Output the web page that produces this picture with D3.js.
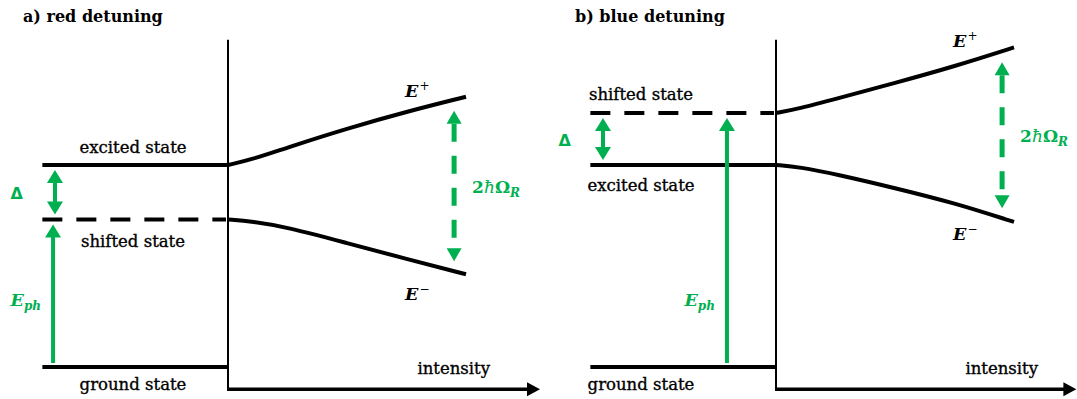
<!DOCTYPE html>
<html>
<head>
<meta charset="utf-8">
<script src="https://cdn.jsdelivr.net/npm/d3@7"></script>
<style>
  body { margin: 0; background: #fff; }
  text { font-family: "DejaVu Serif", serif; fill: #000; }
  .lbl { font-size: 16.5px; stroke: #000; stroke-width: 0.35px; }
</style>
</head>
<body>
<svg id="chart"></svg>
<script>
// Data: energies in units of the excited-state energy (ground = 0),
// intensity in arbitrary units (0 at the axis, 1 at the end of the branches)
const panelTitles = ["a) red detuning", "b) blue detuning"];
const levelNames = ["ground state", "excited state", "shifted state"];
const levelEnergy = [
  [0, 1, 0.73],
  [0, 1, 1.257]
];
const intensity = [0, 0.1, 0.25, 0.5, 0.75, 1];
const upperBranch = [
  [1.0, 1.027, 1.087, 1.181, 1.264, 1.338],
  [1.257, 1.28, 1.327, 1.406, 1.488, 1.582]
];
const lowerBranch = [
  [0.73, 0.721, 0.692, 0.613, 0.535, 0.459],
  [1.0, 0.99, 0.955, 0.886, 0.812, 0.718]
];
const axisLabel = "intensity";

const green = "#00b050";
const width = 1077;
const height = 399;

const svg = d3.select("#chart").attr("width", width).attr("height", height);

// Shared scales (local to each panel, x = 0 at the vertical axis)
const x = d3.scaleLinear().domain([0, 1]).range([0, 238]);
const y = d3.scaleLinear().domain([0, 1]).range([367, 165]);

const line = d3
  .line()
  .x((d) => x(d[0]))
  .y((d) => y(d[1]))
  .curve(d3.curveBasis);

// per-panel layout
const panels = [
  { dx: 228, titleX: -205, labelX: -95, axisEnd: 1.311, ephX: -0.735,
    labelDy: [23, -12, 27], eMinusDy: 26 },
  { dx: 776, titleX: -201, labelX: -135, axisEnd: 1.262, ephX: -0.206,
    labelDy: [23, 26, -13], eMinusDy: 18 }
];

const levelStart = -0.78;
const deltaX = -0.727;
const rabiX = 0.95;

function arrowHead(g, cx, tipY, dir, w, len, color) {
  // dir = -1 points up, 1 points down
  g.append("path")
    .attr("d", `M${cx},${tipY} L${cx - w / 2},${tipY - dir * len} L${cx + w / 2},${tipY - dir * len} Z`)
    .style("fill", color);
}

panels.forEach((p, i) => {
  const g = svg.append("g").attr("transform", `translate(${p.dx},0)`);
  const lv = levelEnergy[i];

  // title
  g.append("text")
    .attr("x", p.titleX)
    .attr("y", 22)
    .style("font-weight", "bold")
    .style("font-size", "16px")
    .text(panelTitles[i]);

  // axes
  g.append("line")
    .attr("x1", 0).attr("x2", 0)
    .attr("y1", y(1.62)).attr("y2", y(-0.11) + 1.5)
    .style("stroke", "#000").style("stroke-width", 2);

  const axY = y(-0.11);
  g.append("line")
    .attr("x1", -1).attr("x2", x(p.axisEnd) - 12)
    .attr("y1", axY).attr("y2", axY)
    .style("stroke", "#000").style("stroke-width", 3.5);
  g.append("path")
    .attr("d", `M${x(p.axisEnd)},${axY} L${x(p.axisEnd) - 13},${axY - 7} L${x(p.axisEnd) - 13},${axY + 7} Z`)
    .style("fill", "#000");

  g.append("text")
    .attr("class", "lbl")
    .attr("x", 262)
    .attr("y", 374)
    .attr("text-anchor", "end")
    .text(axisLabel);

  // unperturbed levels
  lv.forEach((e, k) => {
    g.append("line")
      .attr("x1", x(levelStart)).attr("x2", k === 2 ? -2 : 0)
      .attr("y1", y(e)).attr("y2", y(e))
      .style("stroke", "#000")
      .style("stroke-width", 4)
      .style("stroke-dasharray", k === 2 ? "20,14" : null);

    g.append("text")
      .attr("class", "lbl")
      .attr("x", p.labelX)
      .attr("y", y(e) + p.labelDy[k])
      .attr("text-anchor", "middle")
      .text(levelNames[k]);
  });

  // dressed branches
  [upperBranch[i], lowerBranch[i]].forEach((branch) => {
    g.append("path")
      .datum(intensity.map((v, j) => [v, branch[j]]))
      .attr("d", line)
      .style("fill", "none")
      .style("stroke", "#000")
      .style("stroke-width", 4);
  });

  const upEnd = upperBranch[i][upperBranch[i].length - 1];
  const loEnd = lowerBranch[i][lowerBranch[i].length - 1];

  // E+ / E- labels
  const eLab = (yy, sign) => {
    const t = g.append("text")
      .attr("x", x(0.744))
      .attr("y", yy)
      .style("font-weight", "bold")
      .style("font-style", "italic")
      .style("font-size", "17.5px");
    t.append("tspan").text("E");
    t.append("tspan").attr("dx", 1).attr("dy", -7).style("font-size", "12px")
      .style("font-weight", "normal").style("font-style", "normal").text(sign);
  };
  eLab(y(upEnd), "+");
  eLab(y(loEnd) + p.eMinusDy, "\u2212");

  // Rabi splitting arrow (dashed, double headed)
  const rx = x(rabiX);
  const upI = d3.bisector((d) => d).left(intensity, rabiX);
  const interp = (arr) => {
    const t = (rabiX - intensity[upI - 1]) / (intensity[upI] - intensity[upI - 1]);
    return arr[upI - 1] + t * (arr[upI] - arr[upI - 1]);
  };
  const rTop = y(interp(upperBranch[i])) + 11;
  const rBot = y(interp(lowerBranch[i])) - 10;
  g.append("line")
    .attr("x1", rx).attr("x2", rx)
    .attr("y1", rTop + 13).attr("y2", rBot - 13)
    .style("stroke", green).style("stroke-width", 5)
    .style("stroke-dasharray", "18,14");
  arrowHead(g, rx, rTop, -1, 15, 13, green);
  arrowHead(g, rx, rBot, 1, 15, 13, green);

  const rl = g.append("text")
    .attr("x", rx + 18)
    .attr("y", (rTop + rBot) / 2 + 7)
    .style("fill", green)
    .style("font-weight", "bold")
    .style("font-size", "17px");
  rl.append("tspan").text("2");
  rl.append("tspan").style("font-style", "italic").style("font-weight", "normal").text("\u0127");
  rl.append("tspan").text("\u03a9");
  rl.append("tspan").attr("dy", 4).style("font-style", "italic").style("font-size", "12px").text("R");

  // detuning arrow
  const dTop = y(Math.max(lv[1], lv[2])) + 5;
  const dBot = y(Math.min(lv[1], lv[2])) - 5;
  const ddx = x(deltaX);
  g.append("line")
    .attr("x1", ddx).attr("x2", ddx)
    .attr("y1", dTop + 10).attr("y2", dBot - 10)
    .style("stroke", green).style("stroke-width", 4);
  arrowHead(g, ddx, dTop, -1, 16, 13, green);
  arrowHead(g, ddx, dBot, 1, 16, 13, green);
  g.append("text")
    .attr("x", ddx - 32)
    .attr("y", (dTop + dBot) / 2 + 7)
    .attr("text-anchor", "end")
    .style("fill", green)
    .style("font-family", "'DejaVu Sans', sans-serif")
    .style("font-weight", "bold")
    .style("font-size", "16px")
    .text("\u0394");

  // photon energy arrow
  const ex = x(p.ephX);
  const eTop = y(lv[2]) + 5;
  g.append("line")
    .attr("x1", ex).attr("x2", ex)
    .attr("y1", y(0) - 4).attr("y2", eTop + 10)
    .style("stroke", green).style("stroke-width", 4);
  arrowHead(g, ex, eTop, -1, 16, 13, green);

  const el = g.append("text")
    .attr("x", ex - 12)
    .attr("y", 306)
    .attr("text-anchor", "end")
    .style("fill", green)
    .style("font-weight", "bold")
    .style("font-style", "italic")
    .style("font-size", "17.5px");
  el.append("tspan").text("E");
  el.append("tspan").attr("dy", 4).style("font-size", "12px").text("ph");
});
</script>
</body>
</html>
